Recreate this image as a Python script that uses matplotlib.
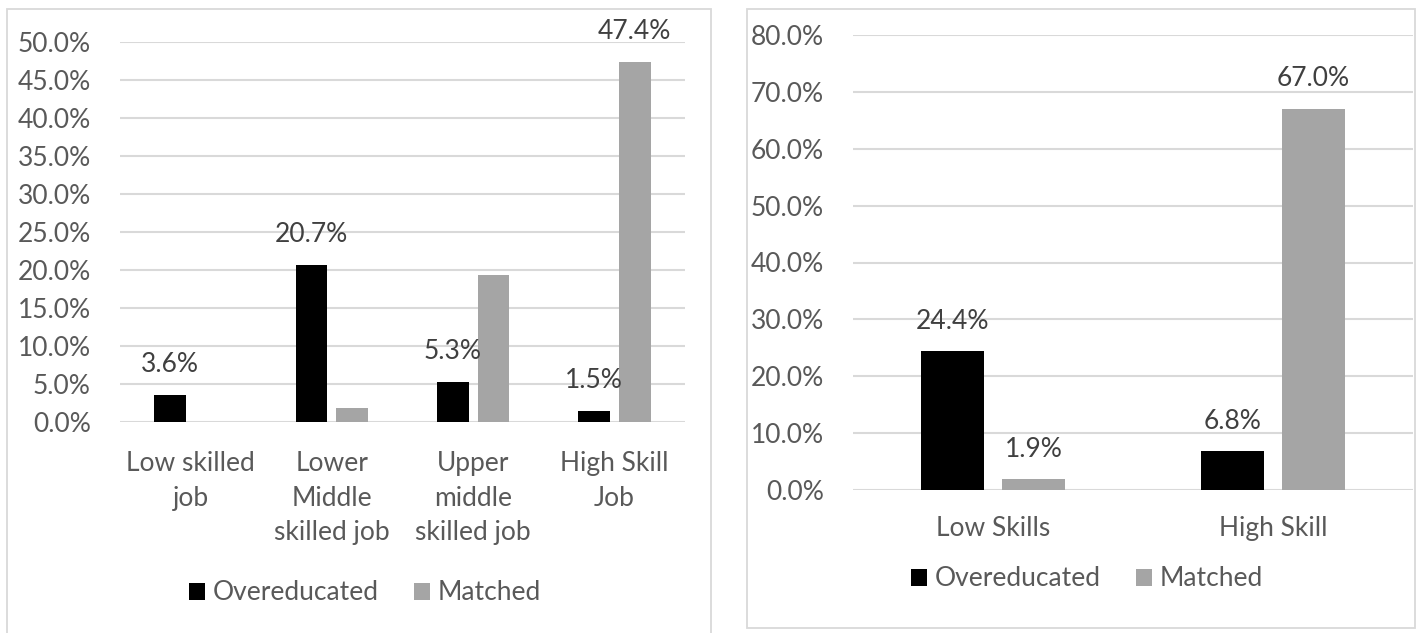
import matplotlib.pyplot as plt
from matplotlib.patches import Rectangle, Patch
import numpy as np

# Data
job_levels = ["Low skilled\njob", "Lower\nMiddle\nskilled job", "Upper\nmiddle\nskilled job", "High Skill\nJob"]
job_over = [3.6, 20.7, 5.3, 1.5]
job_matched = [0.0, 1.8, 19.4, 47.4]
job_matched_labelled = [False, False, False, True]

skill_levels = ["Low Skills", "High Skill"]
skill_over = [24.4, 6.8]
skill_matched = [1.9, 67.0]
skill_matched_labelled = [True, True]

plt.rcParams["font.family"] = ["Lato", "DejaVu Sans"]
plt.rcParams["font.size"] = 19

TEXT = "#595959"
LABEL = "#404040"
GRID = "#d9d9d9"
BLACK = "#000000"
GREY = "#a5a5a5"

W, H = 1421, 633
fig = plt.figure(figsize=(W / 100, H / 100), dpi=100)


def px_box(x0, y0, x1, y1):
    # pixel box (top-left origin) -> figure fraction rect
    return [x0 / W, 1 - y1 / H, (x1 - x0) / W, (y1 - y0) / H]


def draw_panel(ax, cats, over, matched, labelled, ymax, step, pad):
    x = np.arange(len(cats))
    w = 0.225
    off = 0.145
    ax.bar(x - off, over, w, color=BLACK, zorder=3)
    ax.bar(x + off, matched, w, color=GREY, zorder=3)

    for xi, v in zip(x, over):
        ax.annotate(f"{v:.1f}%", (xi - off, v), xytext=(0, 21.6),
                    textcoords="offset points", ha="center", va="center",
                    color=LABEL)
    for xi, v, show in zip(x, matched, labelled):
        if show:
            ax.annotate(f"{v:.1f}%", (xi + off, v), xytext=(0, 21.6),
                        textcoords="offset points", ha="center", va="center",
                        color=LABEL)

    ax.set_xlim(-0.5, len(cats) - 0.5)
    ax.set_ylim(0, ymax)
    ticks = np.arange(0, ymax + step / 2, step)
    ax.set_yticks(ticks)
    ax.set_yticklabels([f"{t:.1f}%" for t in ticks])
    ax.set_xticks(x)
    ax.set_xticklabels(cats, linespacing=1.48)
    ax.tick_params(axis="both", length=0, colors=TEXT)
    ax.tick_params(axis="y", pad=21)
    ax.tick_params(axis="x", pad=pad)
    ax.yaxis.grid(True, color=GRID, linewidth=1.5, zorder=0)
    ax.set_axisbelow(True)
    for s in ax.spines.values():
        s.set_visible(False)


# Left chart: job skill levels
ax1 = fig.add_axes(px_box(120, 42, 685, 422))
draw_panel(ax1, job_levels, job_over, job_matched, job_matched_labelled, 50, 5, 21)

# Right chart: broad skill groups
ax2 = fig.add_axes(px_box(853, 35, 1413, 490))
draw_panel(ax2, skill_levels, skill_over, skill_matched, skill_matched_labelled, 80, 10, 19)

# Panel frames
for x0, y0, x1, y1 in [(7, 9, 711, 640), (747, 9, 1415, 628)]:
    fig.patches.append(Rectangle((x0 / W, 1 - y1 / H), (x1 - x0) / W, (y1 - y0) / H,
                                 transform=fig.transFigure, fill=False,
                                 edgecolor=GRID, linewidth=1.3))

handles = [Patch(facecolor=BLACK, label="Overeducated"),
           Patch(facecolor=GREY, label="Matched")]
for cx, cy in [(365, 593), (1087, 579)]:
    fig.legend(handles=handles, loc="center", bbox_to_anchor=(cx / W, 1 - cy / H),
               ncol=2, frameon=False, handlelength=0.62, handleheight=0.62,
               handletextpad=0.3, columnspacing=1.3, labelcolor=TEXT,
               borderaxespad=0, borderpad=0)

fig.savefig("out.png", dpi=100)
